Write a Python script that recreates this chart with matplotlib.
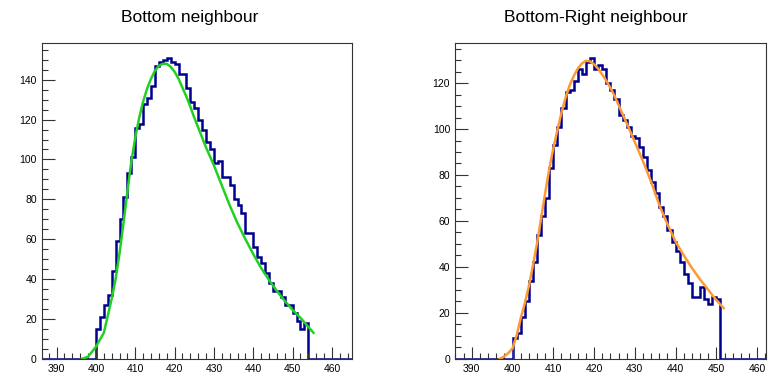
import numpy as np
import matplotlib
matplotlib.use("Agg")
import matplotlib.pyplot as plt
from matplotlib.ticker import MultipleLocator

plt.rcParams['font.family'] = ['Liberation Sans', 'DejaVu Sans']

# --- bottom neighbour: 1 unit bins starting at 400
bot_first = 400
bot_counts = [15, 21, 27, 32, 44, 59, 70, 81, 93, 101,
              116, 118, 128, 131, 137, 147, 149, 150, 151, 149,
              148, 143, 143, 136, 129, 126, 120, 115, 109, 105,
              98, 99, 91, 91, 87, 80, 77, 73, 63, 63,
              56, 51, 48, 43, 38, 34, 34, 31, 27, 27,
              23, 19, 15, 18]
bot_fit_x = [396.5, 398, 400, 402, 404, 405, 406, 407, 408, 409,
             410, 411, 412, 413, 414, 415, 416, 417, 418, 419,
             420, 421, 422, 423, 424, 425, 426, 427, 428, 429,
             430, 432, 434, 436, 438, 440, 442, 444, 446, 448,
             450, 452, 454, 455.3]
bot_fit_y = [0, 1, 6, 13, 30, 40, 53, 68, 84, 99,
             111, 121, 129, 135.5, 140.5, 144.5, 147, 148, 148, 146.5,
             144, 140.5, 136, 131.5, 126.5, 121, 116, 111, 106, 101.5,
             97, 87, 77, 68, 60, 52.5, 45.5, 39.5, 34, 29,
             24.5, 20.5, 16, 13]

# --- bottom-right neighbour
br_first = 400
br_counts = [9, 11, 18, 25, 34, 42, 54, 62, 70, 83,
             93, 101, 109, 116, 117, 121, 126, 124, 129, 131,
             126, 128, 126, 120, 117, 113, 106, 104, 101, 97,
             96, 92, 88, 82, 77, 72, 66, 62, 56, 51,
             47, 42, 37, 33, 27, 27, 31, 26, 24, 27,
             26]
br_fit_x = [396.9, 398, 399, 400, 401, 402, 403, 404, 405, 406,
            407, 408, 409, 410, 411, 412, 413, 414, 415, 416,
            417, 418, 419, 420, 421, 422, 423, 424, 425, 426,
            427, 428, 429, 430, 432, 434, 436, 438, 440, 442,
            444, 446, 448, 450, 451.8]
br_fit_y = [0, 1, 2.5, 4.5, 10, 17.5, 24, 31.5, 40.5, 50,
            61, 72, 82.5, 91.5, 99.5, 107, 113.5, 119, 123, 126.3,
            128.5, 129.7, 129.5, 128.2, 126.3, 123.8, 121, 118, 114.5, 110.5,
            106.5, 102.5, 98.5, 94.3, 86, 77, 67, 58.5, 51, 45,
            39.5, 34.5, 30, 25.5, 22]

fig = plt.figure(figsize=(7.69, 3.82), dpi=100)
ax1 = fig.add_axes([0.0542, 0.061, 0.4035, 0.827])
ax2 = fig.add_axes([0.5917, 0.061, 0.404, 0.827])


def draw(ax, first, counts, fx, fy, xlo, xhi, fitcol, title, tx):
    lo = int(np.floor(xlo))
    hi = int(np.ceil(xhi))
    edges = np.arange(lo, hi + 1)
    vals = np.zeros(len(edges) - 1)
    vals[first - lo:first - lo + len(counts)] = counts
    ax.stairs(vals, edges, color='#00008f', lw=1.8)
    ax.plot(fx, fy, color=fitcol, lw=1.8)
    ax.set_xlim(xlo, xhi)
    ax.set_ylim(0, max(counts) * 1.05)
    ax.xaxis.set_major_locator(MultipleLocator(10))
    ax.xaxis.set_minor_locator(MultipleLocator(2))
    ax.yaxis.set_major_locator(MultipleLocator(20))
    ax.yaxis.set_minor_locator(MultipleLocator(5))
    ax.tick_params(which='both', direction='in', labelsize=7.5, color='#333333',
                   top=False, right=False)
    ax.tick_params(which='major', length=9, width=0.8)
    ax.tick_params(which='minor', length=4.5, width=0.8)
    ax.tick_params(axis='x', pad=4)
    for s in ax.spines.values():
        s.set_color('#333333')
        s.set_linewidth(0.8)
    fig.text(tx, 0.955, title, ha='center', va='center', fontsize=12.5)


draw(ax1, bot_first, bot_counts, bot_fit_x, bot_fit_y, 386.2, 465.1, '#22d022',
     'Bottom neighbour', 0.247)
draw(ax2, br_first, br_counts, br_fit_x, br_fit_y, 385.9, 462.1, '#ff9a33',
     'Bottom-Right neighbour', 0.775)

fig.savefig('out.png', dpi=100)
